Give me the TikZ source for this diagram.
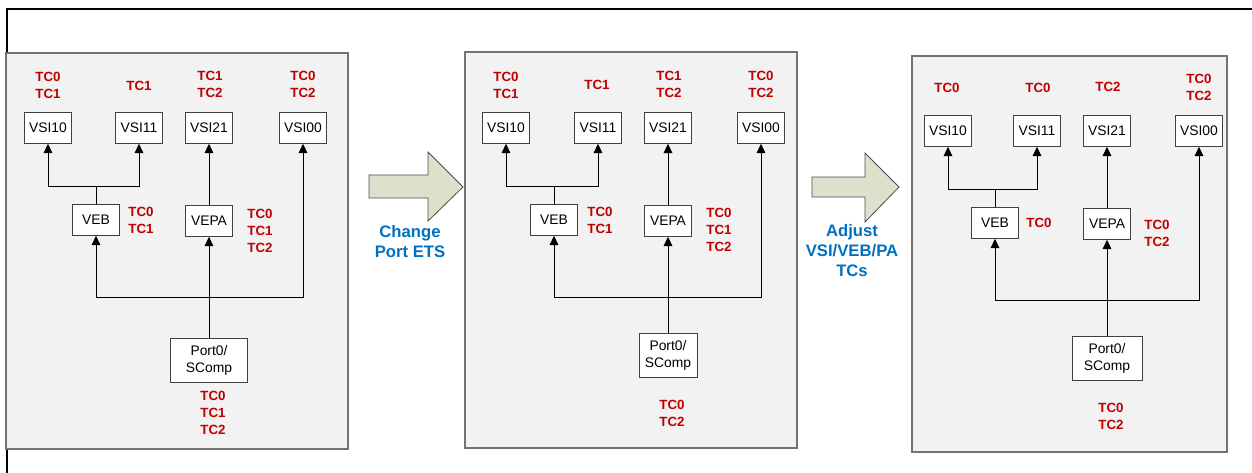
\documentclass[tikz,border=0pt]{standalone}
\usepackage{fontspec}
\setmainfont{Liberation Sans}
\usetikzlibrary{arrows.meta}
\definecolor{tcred}{HTML}{C00000}
\definecolor{stepblue}{HTML}{0070C0}
\definecolor{arrowfill}{HTML}{DDE1CC}
\definecolor{panelgray}{HTML}{F2F2F2}
\begin{document}
\begin{tikzpicture}[x=0.75pt,y=-0.75pt,
  every node/.style={font=\fontsize{10.4}{12.75}\selectfont},
  box/.style={draw=black!75, fill=white, minimum width=35.25pt, minimum height=23.25pt, inner sep=0pt},
  portbox/.style={box, align=center, minimum height=33pt},
  tc/.style={text=tcred, font=\fontsize{10}{12.75}\selectfont\bfseries, align=center},
  panel/.style={draw=black!55, fill=panelgray, line width=1pt},
  link/.style={line width=0.7pt},
  arr/.style={link, -{Triangle[width=6.5pt,length=7pt]}},
  bigarrow/.style={draw=black!70, fill=arrowfill, line width=0.6pt},
  steptext/.style={text=stepblue, font=\fontsize{12.5}{15}\selectfont\bfseries, align=center}]
\useasboundingbox (0,0) rectangle (1252,473);
\clip (0,0) rectangle (1252,473);
\draw[line width=1.6pt] (7,9) rectangle (1275,490);

% panel 1: before
\draw[panel] (6,53) rectangle (348,449);
\node[box] (vsi10a) at (48,128) {VSI10};
\node[box] (vsi11a) at (139,128) {VSI11};
\node[box] (vsi21a) at (209,128) {VSI21};
\node[box] (vsi00a) at (303,128) {VSI00};
\node[box] (veba) at (96,220) {VEB};
\node[box] (vepaa) at (209,221) {VEPA};
\node[portbox, minimum width=57.75pt] (porta) at (209,360) {Port0/\\SComp};
\coordinate (upa) at (96,186);
\coordinate (downa) at (209,297);
\draw[link] (veba.north) -- (upa);
\draw[arr] (upa) -| (vsi10a.south);
\draw[arr] (upa) -| (vsi11a.south);
\draw[arr] (vepaa.north) -- (vsi21a.south);
\draw[arr] (porta.north) -- (vepaa.south);
\draw[arr] (downa) -| (veba.south);
\draw[arr] (downa) -| (vsi00a.south);
\node[tc] at (48,85) {TC0\\TC1};
\node[tc] at (139,86) {TC1};
\node[tc] at (210,84) {TC1\\TC2};
\node[tc] at (303,84) {TC0\\TC2};
\node[tc] at (141,220) {TC0\\TC1};
\node[tc] at (260,231) {TC0\\TC1\\TC2};
\node[tc] at (213,413) {TC0\\TC1\\TC2};

% step arrow 1
\draw[bigarrow] (369,175) -- (428,175) -- (428,152) -- (463,187)
  -- (428,221) -- (428,198) -- (369,198) -- cycle;
\node[steptext] at (410,242) {Change\\Port ETS};

% panel 2: port ETS changed
\draw[panel] (465,52) rectangle (797,448);
\node[box] (vsi10b) at (506,128) {VSI10};
\node[box] (vsi11b) at (598,128) {VSI11};
\node[box] (vsi21b) at (668,128) {VSI21};
\node[box] (vsi00b) at (761,128) {VSI00};
\node[box] (vebb) at (554,220) {VEB};
\node[box] (vepab) at (668,221) {VEPA};
\node[portbox, minimum width=43.5pt] (portb) at (668,355) {Port0/\\SComp};
\coordinate (upb) at (554,186);
\coordinate (downb) at (668,297);
\draw[link] (vebb.north) -- (upb);
\draw[arr] (upb) -| (vsi10b.south);
\draw[arr] (upb) -| (vsi11b.south);
\draw[arr] (vepab.north) -- (vsi21b.south);
\draw[arr] (portb.north) -- (vepab.south);
\draw[arr] (downb) -| (vebb.south);
\draw[arr] (downb) -| (vsi00b.south);
\node[tc] at (506,85) {TC0\\TC1};
\node[tc] at (597,85) {TC1};
\node[tc] at (669,84) {TC1\\TC2};
\node[tc] at (761,84) {TC0\\TC2};
\node[tc] at (600,220) {TC0\\TC1};
\node[tc] at (719,230) {TC0\\TC1\\TC2};
\node[tc] at (672,413) {TC0\\TC2};

% step arrow 2
\draw[bigarrow] (812,177) -- (865,177) -- (865,153) -- (899,187)
  -- (865,222) -- (865,197) -- (812,197) -- cycle;
\node[steptext] at (852,251) {Adjust\\VSI/VEB/PA\\TCs};

% panel 3: TCs adjusted
\draw[panel] (912,56) rectangle (1227,452);
\node[box] (vsi10c) at (948,131) {VSI10};
\node[box] (vsi11c) at (1037,131) {VSI11};
\node[box] (vsi21c) at (1107,131) {VSI21};
\node[box] (vsi00c) at (1199,131) {VSI00};
\node[box] (vebc) at (995,223) {VEB};
\node[box] (vepac) at (1107,224) {VEPA};
\node[portbox, minimum width=52.5pt] (portc) at (1107,358) {Port0/\\SComp};
\coordinate (upc) at (995,189);
\coordinate (downc) at (1107,300);
\draw[link] (vebc.north) -- (upc);
\draw[arr] (upc) -| (vsi10c.south);
\draw[arr] (upc) -| (vsi11c.south);
\draw[arr] (vepac.north) -- (vsi21c.south);
\draw[arr] (portc.north) -- (vepac.south);
\draw[arr] (downc) -| (vebc.south);
\draw[arr] (downc) -| (vsi00c.south);
\node[tc] at (947,88) {TC0};
\node[tc] at (1038,88) {TC0};
\node[tc] at (1108,87) {TC2};
\node[tc] at (1199,87) {TC0\\TC2};
\node[tc] at (1039,223) {TC0};
\node[tc] at (1157,233) {TC0\\TC2};
\node[tc] at (1111,416) {TC0\\TC2};
\end{tikzpicture}
\end{document}
